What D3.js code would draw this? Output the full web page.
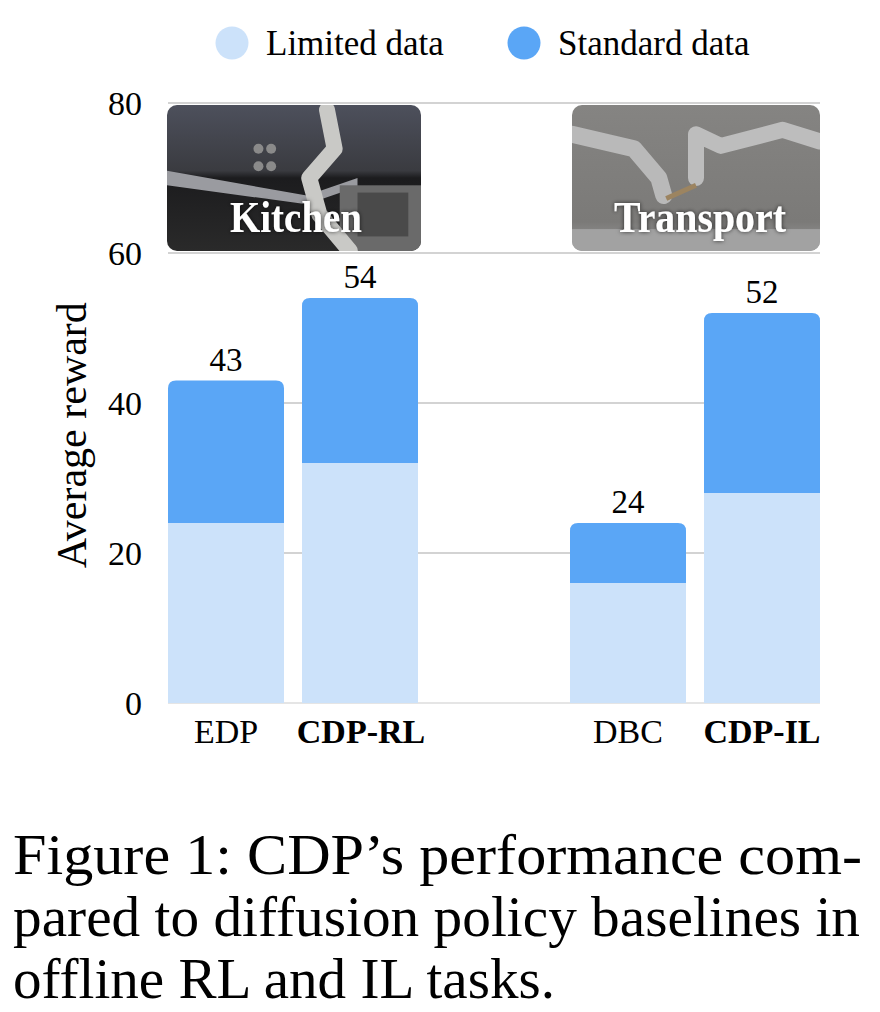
<!DOCTYPE html>
<html><head><meta charset="utf-8">
<script src="https://cdn.jsdelivr.net/npm/d3@7/dist/d3.min.js"></script>
<style>html,body{margin:0;padding:0;background:#fff;} svg{display:block;}</style>
</head><body>
<svg id="c" width="880" height="1012"></svg>
<script>
const categories = ["EDP", "CDP-RL", "", "DBC", "CDP-IL"];
const boldCats = ["CDP-RL", "CDP-IL"];
const limitedValues = [24, 32, null, 16, 28];
const standardTotals = [43, 54, null, 24, 52];
const yTicks = [0, 20, 40, 60, 80];
const seriesNames = ["Limited data", "Standard data"];
const seriesColors = ["#cce2fa", "#5aa6f6"];
const panels = [{label: "Kitchen", from: "EDP", to: "CDP-RL"}, {label: "Transport", from: "DBC", to: "CDP-IL"}];
const captionLines = ["Figure 1:  CDP’s performance com-", "pared to diffusion policy baselines in", "offline RL and IL tasks."];

const svg = d3.select("#c");
const serif = "'Liberation Serif','Times New Roman',serif";

const x = d3.scaleBand().domain(categories).range([159, 829]).paddingInner(18/134).paddingOuter(9/134);
const y = d3.scaleLinear().domain([0, 80]).range([703, 103]);
const bw = x.bandwidth();
const gridX0 = x("EDP"), gridX1 = x("CDP-IL") + bw;

// gridlines
svg.append("g").selectAll("line").data(yTicks).join("line")
  .attr("x1", gridX0).attr("x2", gridX1)
  .attr("y1", d => y(d)).attr("y2", d => y(d))
  .attr("stroke", d => d === 0 ? "#dcdcdc" : "#c4c4c4").attr("stroke-width", 1.6);

// y tick labels
svg.append("g").selectAll("text").data(yTicks).join("text")
  .attr("x", 142).attr("y", d => y(d)).attr("dy", "0.35em")
  .attr("text-anchor", "end").attr("font-family", serif).attr("font-size", 34)
  .text(d => d);

// axis title
svg.append("text").attr("transform", `translate(86,${y(35.7)}) rotate(-90)`)
  .attr("text-anchor", "middle").attr("font-family", serif).attr("font-size", 42)
  .text("Average reward");

// scene panels (stand-ins for the photographs)
const defs = svg.append("defs");
const gk = defs.append("linearGradient").attr("id", "gk").attr("x1", 0).attr("y1", 0).attr("x2", 0).attr("y2", 1);
gk.append("stop").attr("offset", "0").attr("stop-color", "#4d505c");
gk.append("stop").attr("offset", "0.45").attr("stop-color", "#3a3b40");
gk.append("stop").attr("offset", "0.5").attr("stop-color", "#1c1c1e");
gk.append("stop").attr("offset", "1").attr("stop-color", "#2a2a2a");
const gt = defs.append("linearGradient").attr("id", "gt").attr("x1", 0).attr("y1", 0).attr("x2", 0).attr("y2", 1);
gt.append("stop").attr("offset", "0").attr("stop-color", "#858482");
gt.append("stop").attr("offset", "0.8").attr("stop-color", "#7b7a78");
gt.append("stop").attr("offset", "1").attr("stop-color", "#9a9a9a");
const sh = defs.append("filter").attr("id", "sh").attr("x", "-10%").attr("y", "-30%").attr("width", "120%").attr("height", "160%");
sh.append("feDropShadow").attr("dx", 0).attr("dy", 0).attr("stdDeviation", 2).attr("flood-color", "#000").attr("flood-opacity", 0.7);

const py0 = 105, py1 = 251;
const panelBounds = [[x("EDP") - 1, x("CDP-RL") + bw + 3], [x("DBC") + 2, x("CDP-IL") + bw]];
const labelBox = [[230, 132], [614, 172]];
panels.forEach((p, i) => {
  const [px0, px1] = panelBounds[i];
  const g = svg.append("g");
  const cid = "clip" + i;
  defs.append("clipPath").attr("id", cid).append("rect")
    .attr("x", px0).attr("y", py0).attr("width", px1 - px0).attr("height", py1 - py0).attr("rx", 10);
  const inner = g.append("g").attr("clip-path", `url(#${cid})`);
  inner.append("rect").attr("x", px0).attr("y", py0).attr("width", px1 - px0).attr("height", py1 - py0)
    .attr("fill", i === 0 ? "url(#gk)" : "url(#gt)");
  const w = px1 - px0, h = py1 - py0;
  if (i === 0) {
    inner.append("path").attr("d", `M${px0},${py0+h*0.45} L${px0+w*0.55},${py0+h*0.62} L${px0+w*0.75},${py0+h*0.5} L${px0+w*0.75},${py0+h*0.56} L${px0+w*0.55},${py0+h*0.68} L${px0},${py0+h*0.55}Z`).attr("fill", "#9a9ba0");
    inner.append("rect").attr("x", px0+w*0.68).attr("y", py0+h*0.55).attr("width", w*0.32).attr("height", h*0.45).attr("fill", "#6a6a6a");
    inner.append("rect").attr("x", px0+w*0.75).attr("y", py0+h*0.6).attr("width", w*0.2).attr("height", h*0.3).attr("fill", "#4a4a4a");
    [0.36, 0.41].forEach(kx => [0.3, 0.42].forEach(ky => inner.append("circle").attr("cx", px0+w*kx).attr("cy", py0+h*ky).attr("r", 5).attr("fill", "#8a8a8a")));
    inner.append("path").attr("d", `M${px0+w*0.63},${py0+5} L${px0+w*0.66},${py0+h*0.3} L${px0+w*0.56},${py0+h*0.5} L${px0+w*0.6},${py0+h*0.75} L${px0+w*0.72},${py0+h}`)
      .attr("fill", "none").attr("stroke", "#c9c9c6").attr("stroke-width", 16).attr("stroke-linecap", "round").attr("stroke-linejoin", "round");
  } else {
    inner.append("path").attr("d", `M${px0},${py0+h*0.2} L${px0+w*0.25},${py0+h*0.3} L${px0+w*0.35},${py0+h*0.5} L${px0+w*0.37},${py0+h*0.62}`)
      .attr("fill", "none").attr("stroke", "#b9b9b9").attr("stroke-width", 17).attr("stroke-linecap", "round").attr("stroke-linejoin", "round");
    inner.append("path").attr("d", `M${px1},${py0+h*0.25} L${px0+w*0.85},${py0+h*0.17} L${px0+w*0.6},${py0+h*0.28} L${px0+w*0.5},${py0+h*0.2} L${px0+w*0.5},${py0+h*0.5}`)
      .attr("fill", "none").attr("stroke", "#bdbdbd").attr("stroke-width", 16).attr("stroke-linecap", "round").attr("stroke-linejoin", "round");
    inner.append("line").attr("x1", px0+w*0.38).attr("y1", py0+h*0.64).attr("x2", px0+w*0.5).attr("y2", py0+h*0.55)
      .attr("stroke", "#9c8460").attr("stroke-width", 5);
    inner.append("rect").attr("x", px0).attr("y", py0+h*0.85).attr("width", w).attr("height", h*0.15).attr("fill", "#a2a2a2");
  }
  g.append("text").attr("x", labelBox[i][0]).attr("y", 232)
    .attr("font-family", serif).attr("font-weight", "bold")
    .attr("font-size", 44).attr("fill", "#fff").attr("filter", "url(#sh)")
    .attr("textLength", labelBox[i][1]).attr("lengthAdjust", "spacingAndGlyphs")
    .text(p.label);
});

// bars
const rows = categories.map((c, i) => ({c, lim: limitedValues[i], tot: standardTotals[i]})).filter(d => d.c !== "");
const r = 8;
svg.append("g").selectAll("rect").data(rows).join("rect")
  .attr("x", d => x(d.c)).attr("width", bw)
  .attr("y", d => y(d.lim)).attr("height", d => y(0) - y(d.lim))
  .attr("fill", seriesColors[0]);
svg.append("g").selectAll("path").data(rows).join("path")
  .attr("d", d => {
    const x0 = x(d.c), x1 = x0 + bw, yt = y(d.tot), yb = y(d.lim);
    return `M${x0},${yb} L${x0},${yt + r} Q${x0},${yt} ${x0 + r},${yt} L${x1 - r},${yt} Q${x1},${yt} ${x1},${yt + r} L${x1},${yb}Z`;
  })
  .attr("fill", seriesColors[1]);

// value labels
svg.append("g").selectAll("text").data(rows).join("text")
  .attr("x", d => x(d.c) + bw / 2).attr("y", d => y(d.tot) - 10)
  .attr("text-anchor", "middle").attr("font-family", serif).attr("font-size", 33)
  .text(d => d.tot);

// x labels
svg.append("g").selectAll("text").data(rows).join("text")
  .attr("x", d => x(d.c) + bw / 2 + (d.c === "CDP-RL" ? 1 : 0)).attr("y", 743)
  .attr("text-anchor", "middle").attr("font-family", serif).attr("font-size", 34)
  .attr("font-weight", d => boldCats.includes(d.c) ? "bold" : "normal")
  .text(d => d.c);

// legend
const legX = [232, 524];
const leg = svg.append("g").selectAll("g").data(seriesNames).join("g")
  .attr("transform", (d, i) => `translate(${legX[i]},43)`);
leg.append("circle").attr("r", 16.5).attr("fill", (d, i) => seriesColors[i]);
leg.append("text").attr("x", 34).attr("y", 12).attr("font-family", serif).attr("font-size", 35).text(d => d);

// caption
const capW = [849, 847, 542];
svg.append("g").selectAll("text").data(captionLines).join("text")
  .attr("x", 13).attr("y", (d, i) => 874 + i * 62)
  .attr("font-family", serif).attr("font-size", 58)
  .attr("textLength", (d, i) => capW[i]).attr("lengthAdjust", "spacingAndGlyphs")
  .text(d => d);
</script>
</body></html>
